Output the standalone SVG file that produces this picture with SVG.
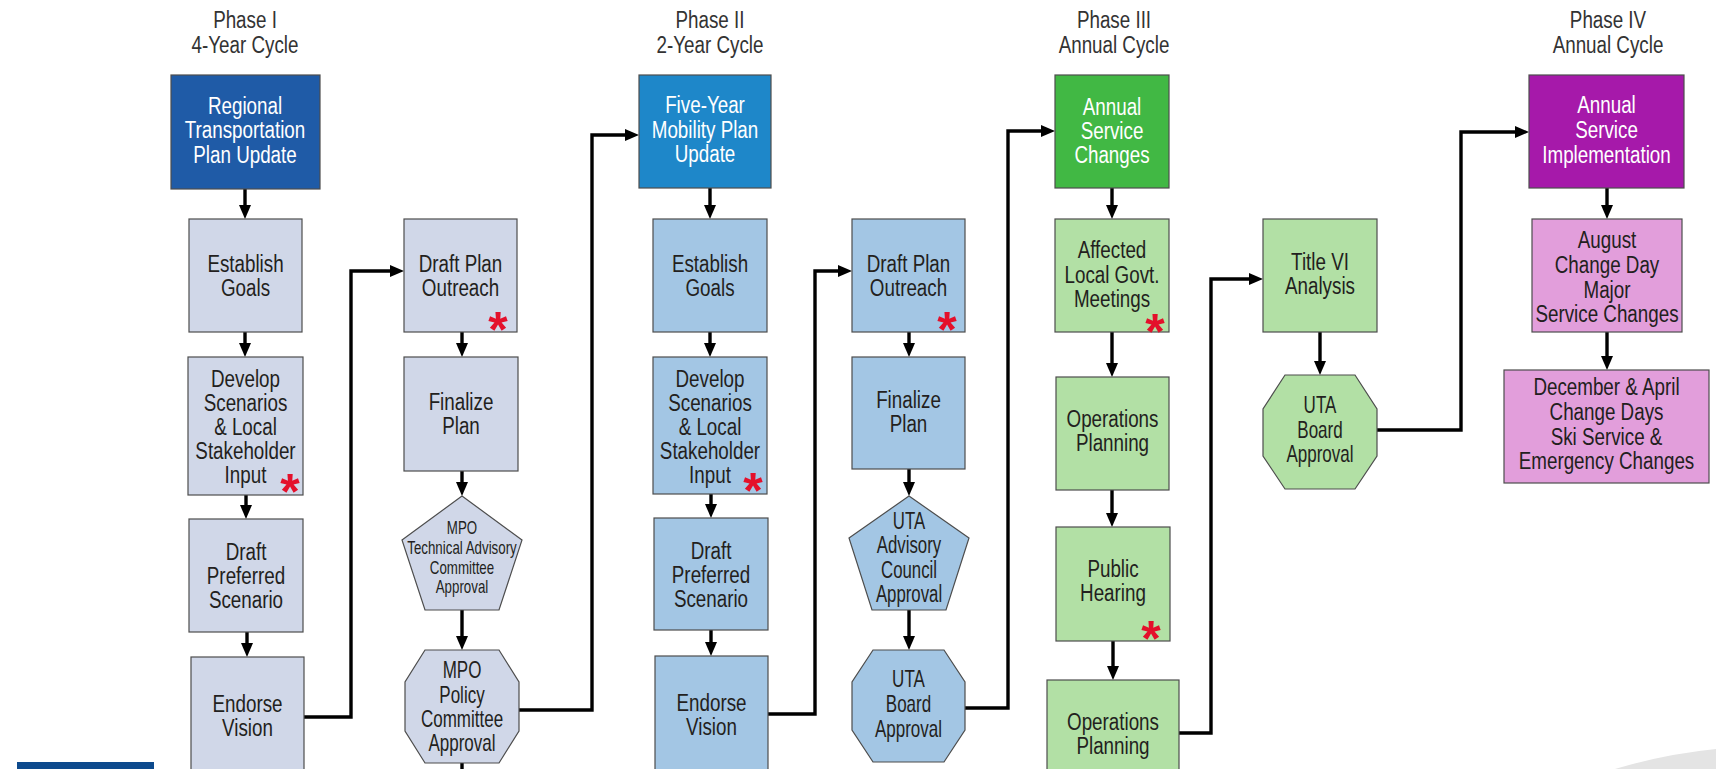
<svg xmlns="http://www.w3.org/2000/svg" width="1716" height="769" viewBox="0 0 1716 769">
<defs>
<marker id="ah" markerUnits="userSpaceOnUse" markerWidth="15" markerHeight="12" refX="6" refY="6" orient="auto">
<path d="M0,0 L14,6 L0,12 Z" fill="#000"/>
</marker>
<style>
.t{font-family:"Liberation Sans",Arial,sans-serif;font-size:23.5px;text-anchor:middle;fill:#231f20}
.w{fill:#ffffff}
.s{font-size:18px}
.a{font-size:23px}
.hd{fill:#333333}
.ast{font-family:"Liberation Sans",Arial,sans-serif;font-weight:bold;font-size:50px;text-anchor:middle;fill:#e4102b}
.b{stroke:#4d4d4d;stroke-width:1.2}
.d1{fill:#1f5ba7}.l1{fill:#d0d7e8}
.d2{fill:#1e87c9}.l2{fill:#a3c6e4}
.d3{fill:#41b844}.l3{fill:#b2e0a5}
.d4{fill:#a619aa}.l4{fill:#e29edb}
.c{fill:none;stroke:#000;stroke-width:3.4;stroke-linejoin:miter}
</style>
</defs>
<rect width="1716" height="769" fill="#ffffff"/>

<g id="headers">
<text class="t hd" transform="translate(245 0) scale(0.8 1)"><tspan x="0" y="28">Phase I</tspan><tspan x="0" y="53">4-Year Cycle</tspan></text>
<text class="t hd" transform="translate(710 0) scale(0.8 1)"><tspan x="0" y="28">Phase II</tspan><tspan x="0" y="53">2-Year Cycle</tspan></text>
<text class="t hd" transform="translate(1114 0) scale(0.8 1)"><tspan x="0" y="28">Phase III</tspan><tspan x="0" y="53">Annual Cycle</tspan></text>
<text class="t hd" transform="translate(1608 0) scale(0.8 1)"><tspan x="0" y="28">Phase IV</tspan><tspan x="0" y="53">Annual Cycle</tspan></text>
</g>

<g id="connectors">
<path class="c" marker-end="url(#ah)" d="M245,189 V211"/>
<path class="c" marker-end="url(#ah)" d="M245,332 V349"/>
<path class="c" marker-end="url(#ah)" d="M246,495 V511"/>
<path class="c" marker-end="url(#ah)" d="M247,632 V649"/>
<path class="c" marker-end="url(#ah)" d="M304,717 H351 V271 H396"/>
<path class="c" marker-end="url(#ah)" d="M462,332 V349"/>
<path class="c" marker-end="url(#ah)" d="M462,471 V488"/>
<path class="c" marker-end="url(#ah)" d="M462,610 V642"/>
<path class="c" d="M462,763 V775"/>
<path class="c" marker-end="url(#ah)" d="M519,710 H592 V135 H631"/>
<path class="c" marker-end="url(#ah)" d="M710,188 V211"/>
<path class="c" marker-end="url(#ah)" d="M710,332 V349"/>
<path class="c" marker-end="url(#ah)" d="M711,494 V510"/>
<path class="c" marker-end="url(#ah)" d="M711,630 V648"/>
<path class="c" marker-end="url(#ah)" d="M768,714 H815 V271 H844"/>
<path class="c" marker-end="url(#ah)" d="M909,332 V349"/>
<path class="c" marker-end="url(#ah)" d="M909,469 V488"/>
<path class="c" marker-end="url(#ah)" d="M909,610 V642"/>
<path class="c" marker-end="url(#ah)" d="M965,708 H1008 V131 H1047"/>
<path class="c" marker-end="url(#ah)" d="M1112,188 V211"/>
<path class="c" marker-end="url(#ah)" d="M1112,332 V369"/>
<path class="c" marker-end="url(#ah)" d="M1112,490 V519"/>
<path class="c" marker-end="url(#ah)" d="M1113,641 V672"/>
<path class="c" marker-end="url(#ah)" d="M1179,733 H1211 V279 H1255"/>
<path class="c" marker-end="url(#ah)" d="M1320,332 V367"/>
<path class="c" marker-end="url(#ah)" d="M1377,430 H1461 V132 H1521"/>
<path class="c" marker-end="url(#ah)" d="M1607,188 V211"/>
<path class="c" marker-end="url(#ah)" d="M1607,332 V362"/>
</g>

<g id="n_rtp"><rect class="b d1" x="171" y="75" width="149" height="114"/>
<text class="t w" transform="translate(245 0) scale(0.8 1)"><tspan x="0" y="114">Regional</tspan><tspan x="0" y="138.5">Transportation</tspan><tspan x="0" y="163">Plan Update</tspan></text></g>

<g id="n_goals1"><rect class="b l1" x="189" y="219" width="113" height="113"/>
<text class="t" transform="translate(245.5 0) scale(0.8 1)"><tspan x="0" y="272">Establish</tspan><tspan x="0" y="296.5">Goals</tspan></text></g>

<g id="n_dev1"><rect class="b l1" x="188" y="357" width="115" height="138"/>
<text class="t" transform="translate(245.5 0) scale(0.8 1)"><tspan x="0" y="387">Develop</tspan><tspan x="0" y="411">Scenarios</tspan><tspan x="0" y="435">&amp; Local</tspan><tspan x="0" y="459">Stakeholder</tspan><tspan x="0" y="483">Input</tspan></text>
<text class="ast" x="290" y="509">*</text></g>

<g id="n_dpref1"><rect class="b l1" x="189" y="519" width="114" height="113"/>
<text class="t" transform="translate(246 0) scale(0.8 1)"><tspan x="0" y="560">Draft</tspan><tspan x="0" y="584">Preferred</tspan><tspan x="0" y="608">Scenario</tspan></text></g>

<g id="n_endorse1"><rect class="b l1" x="191" y="657" width="113" height="125"/>
<text class="t" transform="translate(247.5 0) scale(0.8 1)"><tspan x="0" y="712">Endorse</tspan><tspan x="0" y="736">Vision</tspan></text></g>

<g id="n_dpo1"><rect class="b l1" x="404" y="219" width="113" height="113"/>
<text class="t" transform="translate(460.5 0) scale(0.8 1)"><tspan x="0" y="272">Draft Plan</tspan><tspan x="0" y="296">Outreach</tspan></text>
<text class="ast" x="498" y="347">*</text></g>

<g id="n_fin1"><rect class="b l1" x="404" y="357" width="114" height="114"/>
<text class="t" transform="translate(461 0) scale(0.8 1)"><tspan x="0" y="410">Finalize</tspan><tspan x="0" y="434">Plan</tspan></text></g>

<g id="n_tac"><polygon class="b l1" points="462,496 522,540 499,610 425,610 402,540"/>
<text class="t s" transform="translate(462 0) scale(0.74 1)"><tspan x="0" y="534">MPO</tspan><tspan x="0" y="554">Technical Advisory</tspan><tspan x="0" y="574">Committee</tspan><tspan x="0" y="593">Approval</tspan></text></g>

<g id="n_mpopol"><polygon class="b l1" points="425,650 499,650 519,682 519,731 499,763 425,763 405,731 405,682"/>
<text class="t a" transform="translate(462 0) scale(0.74 1)"><tspan x="0" y="678">MPO</tspan><tspan x="0" y="703">Policy</tspan><tspan x="0" y="727">Committee</tspan><tspan x="0" y="751">Approval</tspan></text></g>

<g id="n_fy"><rect class="b d2" x="639" y="75" width="132" height="113"/>
<text class="t w" transform="translate(705 0) scale(0.8 1)"><tspan x="0" y="113">Five-Year</tspan><tspan x="0" y="138">Mobility Plan</tspan><tspan x="0" y="162">Update</tspan></text></g>

<g id="n_goals2"><rect class="b l2" x="653" y="219" width="114" height="113"/>
<text class="t" transform="translate(710 0) scale(0.8 1)"><tspan x="0" y="272">Establish</tspan><tspan x="0" y="296.5">Goals</tspan></text></g>

<g id="n_dev2"><rect class="b l2" x="653" y="357" width="114" height="137"/>
<text class="t" transform="translate(710 0) scale(0.8 1)"><tspan x="0" y="387">Develop</tspan><tspan x="0" y="411">Scenarios</tspan><tspan x="0" y="435">&amp; Local</tspan><tspan x="0" y="459">Stakeholder</tspan><tspan x="0" y="483">Input</tspan></text>
<text class="ast" x="753" y="508">*</text></g>

<g id="n_dpref2"><rect class="b l2" x="654" y="518" width="114" height="112"/>
<text class="t" transform="translate(711 0) scale(0.8 1)"><tspan x="0" y="559">Draft</tspan><tspan x="0" y="583">Preferred</tspan><tspan x="0" y="607">Scenario</tspan></text></g>

<g id="n_endorse2"><rect class="b l2" x="655" y="656" width="113" height="126"/>
<text class="t" transform="translate(711.5 0) scale(0.8 1)"><tspan x="0" y="711">Endorse</tspan><tspan x="0" y="735">Vision</tspan></text></g>

<g id="n_dpo2"><rect class="b l2" x="852" y="219" width="113" height="113"/>
<text class="t" transform="translate(908.5 0) scale(0.8 1)"><tspan x="0" y="272">Draft Plan</tspan><tspan x="0" y="296">Outreach</tspan></text>
<text class="ast" x="947" y="347">*</text></g>

<g id="n_fin2"><rect class="b l2" x="852" y="357" width="113" height="112"/>
<text class="t" transform="translate(908.5 0) scale(0.8 1)"><tspan x="0" y="408">Finalize</tspan><tspan x="0" y="432">Plan</tspan></text></g>

<g id="n_uac"><polygon class="b l2" points="909,496 969,538 946,610 872,610 849,538"/>
<text class="t a" transform="translate(909 0) scale(0.73 1)"><tspan x="0" y="529">UTA</tspan><tspan x="0" y="553">Advisory</tspan><tspan x="0" y="578">Council</tspan><tspan x="0" y="602">Approval</tspan></text></g>

<g id="n_utab2"><polygon class="b l2" points="873,650 944,650 965,682 965,730 944,762 873,762 852,730 852,682"/>
<text class="t a" transform="translate(908.5 0) scale(0.74 1)"><tspan x="0" y="687">UTA</tspan><tspan x="0" y="712">Board</tspan><tspan x="0" y="737">Approval</tspan></text></g>

<g id="n_asc"><rect class="b d3" x="1055" y="75" width="114" height="113"/>
<text class="t w" transform="translate(1112 0) scale(0.8 1)"><tspan x="0" y="115">Annual</tspan><tspan x="0" y="139">Service</tspan><tspan x="0" y="163">Changes</tspan></text></g>

<g id="n_alg"><rect class="b l3" x="1055" y="219" width="114" height="113"/>
<text class="t" transform="translate(1112 0) scale(0.8 1)"><tspan x="0" y="258">Affected</tspan><tspan x="0" y="283">Local Govt.</tspan><tspan x="0" y="307">Meetings</tspan></text>
<text class="ast" x="1155" y="349">*</text></g>

<g id="n_ops1"><rect class="b l3" x="1056" y="377" width="113" height="113"/>
<text class="t" transform="translate(1112.5 0) scale(0.8 1)"><tspan x="0" y="427">Operations</tspan><tspan x="0" y="451">Planning</tspan></text></g>

<g id="n_ph"><rect class="b l3" x="1056" y="527" width="114" height="114"/>
<text class="t" transform="translate(1113 0) scale(0.8 1)"><tspan x="0" y="577">Public</tspan><tspan x="0" y="601">Hearing</tspan></text>
<text class="ast" x="1151" y="656">*</text></g>

<g id="n_ops2"><rect class="b l3" x="1047" y="680" width="132" height="100"/>
<text class="t" transform="translate(1113 0) scale(0.8 1)"><tspan x="0" y="730">Operations</tspan><tspan x="0" y="754">Planning</tspan></text></g>

<g id="n_t6"><rect class="b l3" x="1263" y="219" width="114" height="113"/>
<text class="t" transform="translate(1320 0) scale(0.8 1)"><tspan x="0" y="270">Title VI</tspan><tspan x="0" y="294">Analysis</tspan></text></g>

<g id="n_utab3"><polygon class="b l3" points="1285,375 1355,375 1377,409 1377,456 1355,489 1285,489 1263,456 1263,409"/>
<text class="t a" transform="translate(1320 0) scale(0.74 1)"><tspan x="0" y="413">UTA</tspan><tspan x="0" y="438">Board</tspan><tspan x="0" y="462">Approval</tspan></text></g>

<g id="n_asi"><rect class="b d4" x="1529" y="75" width="155" height="113"/>
<text class="t w" transform="translate(1606.5 0) scale(0.8 1)"><tspan x="0" y="113">Annual</tspan><tspan x="0" y="138">Service</tspan><tspan x="0" y="163">Implementation</tspan></text></g>

<g id="n_aug"><rect class="b l4" x="1532" y="219" width="150" height="113"/>
<text class="t" transform="translate(1607 0) scale(0.8 1)"><tspan x="0" y="248">August</tspan><tspan x="0" y="273">Change Day</tspan><tspan x="0" y="298">Major</tspan><tspan x="0" y="322">Service Changes</tspan></text></g>

<g id="n_dec"><rect class="b l4" x="1504" y="370" width="205" height="113"/>
<text class="t" transform="translate(1606.5 0) scale(0.8 1)"><tspan x="0" y="395">December &amp; April</tspan><tspan x="0" y="420">Change Days</tspan><tspan x="0" y="445">Ski Service &amp;</tspan><tspan x="0" y="469">Emergency Changes</tspan></text></g>

<rect x="17" y="762" width="137" height="8" fill="#0d4a8d"/>
<path d="M1615,769 Q1665,754 1716,749 L1716,769 Z" fill="#e4e4e4"/>
</svg>
